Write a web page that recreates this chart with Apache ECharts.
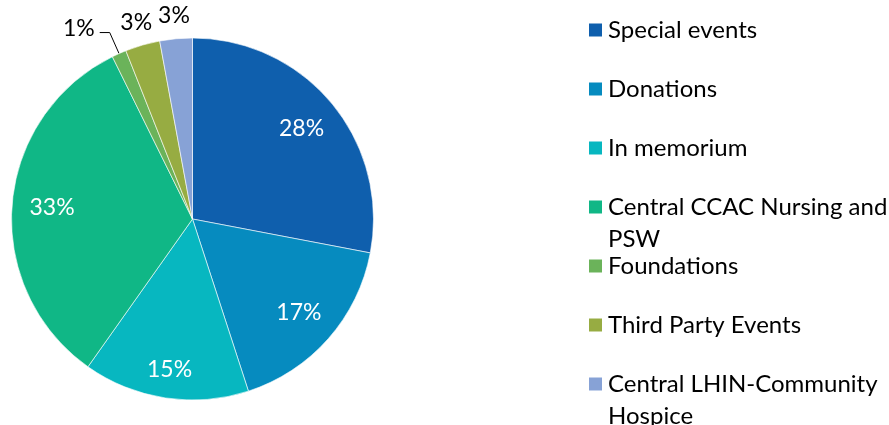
<!DOCTYPE html>
<html>
<head>
<meta charset="utf-8">
<script src="https://cdn.jsdelivr.net/npm/echarts@6/dist/echarts.min.js"></script>
<style>
  html, body { margin: 0; padding: 0; background: #fff; }
  #chart { width: 889px; height: 425px; }
</style>
</head>
<body>
<div id="chart"></div>
<script>
// Data
// ----------
var categories = ['Special events', 'Donations', 'In memorium', 'Central CCAC Nursing and PSW',
    'Foundations', 'Third Party Events', 'Central LHIN-Community Hospice'];
// shares in percent, measured from the slice angles
var shares = [28.0, 17.0, 14.8, 32.9, 1.3, 3.1, 2.9];
// legend text, split the way it wraps in the picture
var legendLines = [
    ['Special events'],
    ['Donations'],
    ['In memorium'],
    ['Central CCAC Nursing and', 'PSW'],
    ['Foundations'],
    ['Third Party Events'],
    ['Central LHIN-Community', 'Hospice']
];
var colors = ['#0f5fad', '#068bbf', '#07b7c0', '#10b786', '#6bb35a', '#97ac42', '#87a2d6'];

// Pie geometry
var CX = 192.5, CY = 219, R = 181;
var FONT = 'Lato';

var total = 0;
shares.forEach(function (v) { total += v });

// mid angle of slice i, clockwise from 12 o'clock
function midAngle(i) {
    var before = 0;
    for (var a = 0; a < i; a++) before += shares[a];
    return (before + shares[i] / 2) / total * Math.PI * 2;
}

function isInside(i) {
    return shares[i] >= 10;
}

var legendText = {};
categories.forEach(function (c, i) {
    var l = legendLines[i];
    // always three lines, the first line of the label sits in the middle one
    legendText[c] = '\n' + l[0] + '\n' + (l[1] || '');
});

var pieData = categories.map(function (c, i) {
    var inside = isInside(i);
    return {
        name: c,
        value: shares[i],
        itemStyle: { color: colors[i] },
        label: {
            position: inside ? 'inside' : 'outside',
            color: inside ? '#fff' : '#000'
        },
        labelLine: { show: c == 'Foundations' }
    };
});

var chart = echarts.init(document.getElementById('chart'), null, { renderer: 'canvas' });

var option = {
    animation: false,
    backgroundColor: '#fff',
    legend: {
        orient: 'vertical',
        left: 587,
        top: -18,
        height: 700,
        padding: 0,
        itemGap: 59 - 96,
        itemWidth: 15,
        itemHeight: 15,
        icon: 'rect',
        selectedMode: false,
        data: categories,
        formatter: function (name) {
            return legendText[name];
        },
        textStyle: {
            fontFamily: FONT,
            fontSize: 24,
            lineHeight: 32,
            color: '#000'
        }
    },
    series: [{
        type: 'pie',
        center: [CX, CY],
        radius: R,
        startAngle: 90,
        clockwise: true,
        avoidLabelOverlap: false,
        itemStyle: { borderColor: '#fff', borderWidth: 0.6 },
        label: {
            fontFamily: FONT,
            fontSize: 23,
            formatter: function (p) {
                return Math.round(p.percent) + '%';
            }
        },
        labelLine: {
            lineStyle: { color: '#000', width: 1 }
        },
        labelLayout: function (p) {
            var i = p.dataIndex;
            var a = midAngle(i);
            var s = Math.sin(a), c = Math.cos(a);
            if (isInside(i)) {
                // keep the text box about 17px in from the rim
                var hw = p.labelRect.width / 2, hh = 8;
                var d = R - 17 - (hw * Math.abs(s) + hh * Math.abs(c));
                return { x: CX + d * s, y: CY - d * c, align: 'center', verticalAlign: 'middle' };
            }
            if (categories[i] == 'Foundations') {
                var p0 = [CX + R * s, CY - R * c];
                var p1 = [CX + (R + 23) * s, CY - (R + 23) * c];
                var p2 = [p1[0] - 10, p1[1]];
                return {
                    x: p2[0] - 5, y: p2[1] - 4,
                    align: 'right', verticalAlign: 'middle',
                    labelLinePoints: [p0, p1, p2]
                };
            }
            var d2 = R + 23;
            return { x: CX + d2 * s, y: CY - d2 * c, align: 'center', verticalAlign: 'middle' };
        },
        data: pieData
    }]
};

chart.setOption(option);
</script>
</body>
</html>
